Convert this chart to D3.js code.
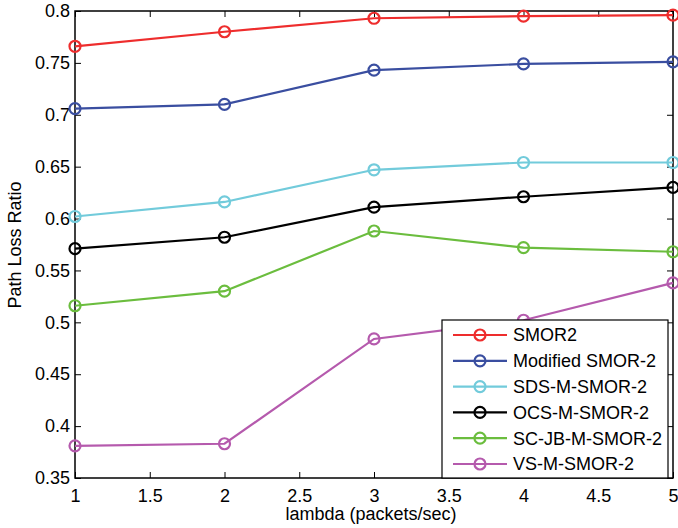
<!DOCTYPE html>
<html>
<head>
<meta charset="utf-8">
<script src="https://cdn.jsdelivr.net/npm/d3@7"></script>
<style>
  body { margin: 0; background: #fff; }
  text { font-family: Arial, "Liberation Sans", sans-serif; }
</style>
</head>
<body>
<div id="chart"></div>
<script>
// data
var lambdas = [1, 2, 3, 4, 5];
var seriesNames = ["SMOR2", "Modified SMOR-2", "SDS-M-SMOR-2", "OCS-M-SMOR-2", "SC-JB-M-SMOR-2", "VS-M-SMOR-2"];
var seriesColors = ["#ee2d2d", "#3a4ea0", "#72cbdb", "#000000", "#6bbd3e", "#b55aad"];
var smor2 = [0.766, 0.780, 0.793, 0.795, 0.796];
var modifiedSmor2 = [0.706, 0.710, 0.743, 0.749, 0.751];
var sdsMSmor2 = [0.602, 0.616, 0.647, 0.654, 0.654];
var ocsMSmor2 = [0.571, 0.582, 0.611, 0.621, 0.630];
var scJbMSmor2 = [0.516, 0.530, 0.588, 0.572, 0.568];
var vsMSmor2 = [0.381, 0.383, 0.484, 0.502, 0.538];
var seriesValues = [smor2, modifiedSmor2, sdsMSmor2, ocsMSmor2, scJbMSmor2, vsMSmor2];
var xTicks = [1, 1.5, 2, 2.5, 3, 3.5, 4, 4.5, 5];
var yTicks = [0.35, 0.4, 0.45, 0.5, 0.55, 0.6, 0.65, 0.7, 0.75, 0.8];

var W = 678, H = 528;
var margin = { left: 75, right: 5, top: 11, bottom: 50 };
var width = W - margin.left - margin.right;
var height = H - margin.top - margin.bottom;

var svg = d3.select('#chart')
    .append('svg')
    .attr('width', W)
    .attr('height', H);

var g = svg.append('g')
    .attr('transform', 'translate(' + margin.left + ',' + margin.top + ')');

var x = d3.scaleLinear().domain([1, 5]).range([0, width]);
var y = d3.scaleLinear().domain([0.35, 0.8]).range([height, 0]);

var fmt = function (d) { return String(+d.toFixed(2)); };

// axes, MATLAB style: ticks inward on all four sides
function styleAxis(sel) {
    sel.select('.domain').remove();
    sel.selectAll('line').attr('stroke', '#000').attr('stroke-width', 1);
    sel.selectAll('text').attr('fill', '#000').style('font-size', '18px');
}

g.append('g')
    .attr('transform', 'translate(0,' + height + ')')
    .call(d3.axisBottom(x).tickValues(xTicks).tickFormat(fmt).tickSizeInner(-6).tickSizeOuter(0).tickPadding(11))
    .call(styleAxis);
g.append('g')
    .call(d3.axisTop(x).tickValues(xTicks).tickFormat('').tickSizeInner(-6).tickSizeOuter(0))
    .call(styleAxis);
g.append('g')
    .call(d3.axisLeft(y).tickValues(yTicks).tickFormat(fmt).tickSizeInner(-6).tickSizeOuter(0).tickPadding(5))
    .call(styleAxis);
g.append('g')
    .attr('transform', 'translate(' + width + ',0)')
    .call(d3.axisRight(y).tickValues(yTicks).tickFormat('').tickSizeInner(-6).tickSizeOuter(0))
    .call(styleAxis);

g.append('rect')
    .attr('width', width)
    .attr('height', height)
    .attr('fill', 'none')
    .attr('stroke', '#000')
    .attr('stroke-width', 1.5);

// lines
var line = d3.line()
    .x(function (d, i) { return x(lambdas[i]); })
    .y(function (d) { return y(d); });

seriesValues.forEach(function (vals, k) {
    g.append('path')
        .datum(vals)
        .attr('d', line)
        .attr('fill', 'none')
        .attr('stroke', seriesColors[k])
        .attr('stroke-width', 2.2);
    g.selectAll('.m' + k)
        .data(vals)
        .enter()
        .append('circle')
        .attr('cx', function (d, i) { return x(lambdas[i]); })
        .attr('cy', function (d) { return y(d); })
        .attr('r', 5.5)
        .attr('fill', 'none')
        .attr('stroke', seriesColors[k])
        .attr('stroke-width', 2.2);
});

// axis labels
svg.append('text')
    .attr('x', 371)
    .attr('y', 520)
    .attr('text-anchor', 'middle')
    .style('font-size', '18px')
    .text('lambda (packets/sec)');

svg.append('text')
    .attr('transform', 'translate(21,245) rotate(-90)')
    .attr('text-anchor', 'middle')
    .style('font-size', '18px')
    .text('Path Loss Ratio');

// legend
var legend = svg.append('g').attr('transform', 'translate(442,320)');
legend.append('rect')
    .attr('width', 226)
    .attr('height', 158)
    .attr('fill', '#fff')
    .attr('stroke', '#000')
    .attr('stroke-width', 1.2);

seriesNames.forEach(function (name, k) {
    var ly = 15 + k * 25.8;
    legend.append('line')
        .attr('x1', 11).attr('x2', 65)
        .attr('y1', ly).attr('y2', ly)
        .attr('stroke', seriesColors[k])
        .attr('stroke-width', 2.2);
    legend.append('circle')
        .attr('cx', 38).attr('cy', ly).attr('r', 5.5)
        .attr('fill', 'none')
        .attr('stroke', seriesColors[k])
        .attr('stroke-width', 2.2);
    legend.append('text')
        .attr('x', 71)
        .attr('y', ly)
        .attr('dy', '0.36em')
        .style('font-size', '18px')
        .text(name);
});
</script>
</body>
</html>
